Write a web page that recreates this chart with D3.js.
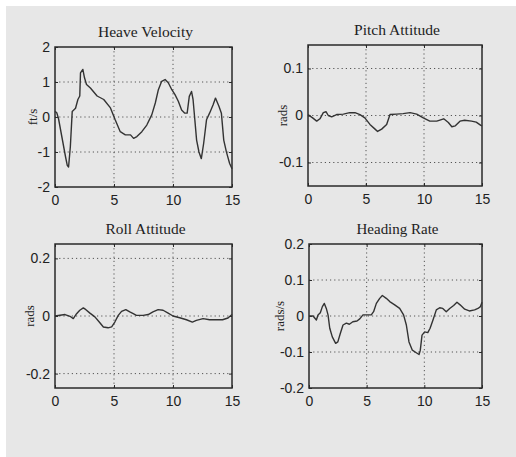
<!DOCTYPE html>
<html><head><meta charset="utf-8">
<script src="https://cdn.jsdelivr.net/npm/d3@7"></script>
<style>
html,body{margin:0;padding:0;background:#fff;}
svg{display:block;}
</style></head>
<body>
<svg id="c" width="516" height="457"></svg>
<script>
// ---- data ----
const xTicks = [0, 5, 10, 15];

const heaveT = [0,0.15,0.3,0.6,0.9,1.04,1.15,1.3,1.46,1.74,1.94,2.1,2.16,2.36,2.5,2.67,3.0,3.57,4.13,4.7,5.1,5.53,5.96,6.4,6.66,6.94,7.36,7.78,8.2,8.5,8.76,9.04,9.33,9.6,9.9,10.17,10.45,10.73,11.0,11.2,11.38,11.57,11.7,11.85,12.0,12.2,12.4,12.6,12.84,13.1,13.4,13.6,13.9,14.1,14.3,14.52,14.8,15];
const heaveV = [0.16,0.12,-0.05,-0.6,-1.15,-1.38,-1.43,-0.85,0.16,0.25,0.5,0.6,1.26,1.36,1.12,0.93,0.83,0.6,0.5,0.26,-0.08,-0.42,-0.51,-0.51,-0.61,-0.56,-0.42,-0.23,0.06,0.4,0.78,1.02,1.07,0.98,0.78,0.64,0.45,0.2,0.11,0.11,0.59,0.73,0.5,-0.08,-0.66,-1.0,-1.19,-0.75,-0.08,0.11,0.35,0.54,0.3,0.11,-0.66,-0.99,-1.33,-1.48];
const heaveYTicks = [-2, -1, 0, 1, 2];

const pitchT = [0,0.4,0.75,1.03,1.32,1.55,1.75,2.04,2.47,3.05,3.6,4.05,4.48,4.9,5.34,5.78,6.0,6.35,6.78,7.07,7.64,8.2,8.8,9.37,9.94,10.5,11.1,11.7,12.1,12.4,12.7,13.1,13.5,14.1,14.5,14.9,15];
const pitchV = [0.002,-0.005,-0.012,-0.007,0.006,0.008,0,-0.003,0.002,0.003,0.006,0.006,0.002,-0.005,-0.019,-0.029,-0.034,-0.029,-0.019,0.002,0.003,0.004,0.006,0.003,-0.005,-0.012,-0.012,-0.007,-0.015,-0.024,-0.022,-0.012,-0.01,-0.012,-0.014,-0.021,-0.022];
const pitchYTicks = [-0.1, 0, 0.1];

const rollT = [0,0.85,1.27,1.55,1.83,2.1,2.4,2.62,2.96,3.38,3.75,4.1,4.5,4.8,5.07,5.36,5.64,6.0,6.34,6.63,6.9,7.47,7.9,8.3,8.74,9.16,9.59,10.0,10.57,11.14,11.64,11.98,12.55,13.1,13.67,14.2,14.66,15];
const rollV = [0,0.005,-0.001,-0.009,0.008,0.02,0.028,0.022,0.01,-0.003,-0.021,-0.038,-0.041,-0.038,-0.021,0.002,0.016,0.022,0.014,0.008,0.002,0.002,0.005,0.014,0.022,0.02,0.01,0,-0.006,-0.013,-0.021,-0.015,-0.009,-0.013,-0.013,-0.013,-0.007,0.005];
const rollYTicks = [-0.2, 0, 0.2];

const headT = [0,0.35,0.64,0.78,0.98,1.16,1.33,1.5,1.65,1.8,2.02,2.31,2.5,2.72,2.95,3.24,3.5,3.8,4.16,4.4,4.68,4.97,5.4,5.6,5.84,6.13,6.36,6.7,7.0,7.43,7.86,8.2,8.44,8.67,8.96,9.3,9.54,9.65,9.8,10.03,10.3,10.5,10.75,11.04,11.33,11.6,11.9,12.2,12.54,12.83,13.1,13.5,13.9,14.36,14.65,14.86,15];
const headV = [0,0,-0.011,0.003,0.009,0.026,0.035,0.021,0.003,-0.034,-0.058,-0.076,-0.072,-0.048,-0.025,-0.02,-0.023,-0.016,-0.014,-0.008,0.003,0.003,0.003,0.012,0.035,0.049,0.057,0.049,0.04,0.031,0.021,0.003,-0.025,-0.072,-0.095,-0.102,-0.107,-0.095,-0.053,-0.044,-0.046,-0.034,-0.011,0.017,0.023,0.021,0.012,0.021,0.029,0.038,0.031,0.019,0.014,0.017,0.021,0.026,0.038];
const headYTicks = [-0.2, -0.1, 0, 0.1, 0.2];

const titles = ["Heave Velocity", "Pitch Attitude", "Roll Attitude", "Heading Rate"];
const yLabels = ["ft/s", "rads", "rads", "rads/s"];

// ---- layout ----
const panels = [
  {t: heaveT, v: heaveV, ticks: heaveYTicks, dom: [-2, 2], box: [55, 47, 232, 187], title: titles[0], yl: yLabels[0], ylx: 32, tw: 95},
  {t: pitchT, v: pitchV, ticks: pitchYTicks, dom: [-0.15, 0.15], box: [308, 45, 482, 186], title: titles[1], yl: yLabels[1], ylx: 282, tw: 86},
  {t: rollT, v: rollV, ticks: rollYTicks, dom: [-0.25, 0.25], box: [55, 244, 232, 388], title: titles[2], yl: yLabels[2], ylx: 29, tw: 80},
  {t: headT, v: headV, ticks: headYTicks, dom: [-0.2, 0.2], box: [309, 244, 482, 388], title: titles[3], yl: yLabels[3], ylx: 279, tw: 82}
];

const svg = d3.select("#c");
svg.append("rect").attr("x", 6).attr("y", 6).attr("width", 510).attr("height", 451).attr("fill", "#e7e7e7");

const ink = "#2a2a2a";
const fmt = d => (d < 0 ? "-" : "") + Math.abs(d).toString();

panels.forEach(p => {
  const [x0, y0, x1, y1] = p.box;
  const x = d3.scaleLinear().domain([0, 15]).range([x0, x1]);
  const y = d3.scaleLinear().domain(p.dom).range([y1, y0]);
  const g = svg.append("g");

  // grid
  g.selectAll("line.gx").data(xTicks.filter(d => d > 0 && d < 15)).join("line")
    .attr("x1", d => x(d)).attr("x2", d => x(d)).attr("y1", y0).attr("y2", y1)
    .attr("stroke", "#555").attr("stroke-width", 1).attr("stroke-dasharray", "1.2,3");
  g.selectAll("line.gy").data(p.ticks.filter(d => d > p.dom[0] && d < p.dom[1])).join("line")
    .attr("x1", x0).attr("x2", x1).attr("y1", d => y(d)).attr("y2", d => y(d))
    .attr("stroke", "#555").attr("stroke-width", 1).attr("stroke-dasharray", "1.2,3");

  // axes (inward ticks, on all sides)
  const axB = d3.axisBottom(x).tickValues(xTicks).tickSize(-3).tickPadding(8).tickFormat(d3.format("d"));
  const axT = d3.axisTop(x).tickValues(xTicks).tickSize(-3).tickFormat("");
  const axL = d3.axisLeft(y).tickValues(p.ticks).tickSize(-3).tickPadding(5).tickFormat(fmt);
  const axR = d3.axisRight(y).tickValues(p.ticks).tickSize(-3).tickFormat("");
  [[axB, `translate(0,${y1})`], [axT, `translate(0,${y0})`], [axL, `translate(${x0},0)`], [axR, `translate(${x1},0)`]].forEach(([ax, tr]) => {
    const a = g.append("g").attr("transform", tr).call(ax);
    a.select(".domain").remove();
    a.selectAll("line").attr("stroke", ink);
    a.selectAll("text").attr("fill", "#222").style("font-family", "'Liberation Sans', Arial, sans-serif").style("font-size", "14px");
  });

  // frame
  g.append("rect").attr("x", x0).attr("y", y0).attr("width", x1 - x0).attr("height", y1 - y0)
    .attr("fill", "none").attr("stroke", ink).attr("stroke-width", 1.5);

  // line
  const line = d3.line().x((d, i) => x(p.t[i])).y(d => y(d));
  g.append("path").datum(p.v).attr("d", line).attr("fill", "none")
    .attr("stroke", "#333").attr("stroke-width", 1.4).attr("stroke-linejoin", "round");

  // title
  g.append("text").attr("x", (x0 + x1) / 2 + 2).attr("y", y0 - 10).attr("text-anchor", "middle")
    .attr("textLength", p.tw).attr("lengthAdjust", "spacingAndGlyphs")
    .style("font-family", "'Liberation Serif', 'Times New Roman', serif").style("font-size", "14px").attr("fill", "#222")
    .text(p.title);

  // y label
  g.append("text").attr("transform", `translate(${p.ylx},${(y0 + y1) / 2}) rotate(-90)`)
    .attr("text-anchor", "middle").attr("dy", "0.35em")
    .style("font-family", "'Liberation Serif', 'Times New Roman', serif").style("font-size", "13px").attr("fill", "#222")
    .text(p.yl);
});
</script>
</body></html>
